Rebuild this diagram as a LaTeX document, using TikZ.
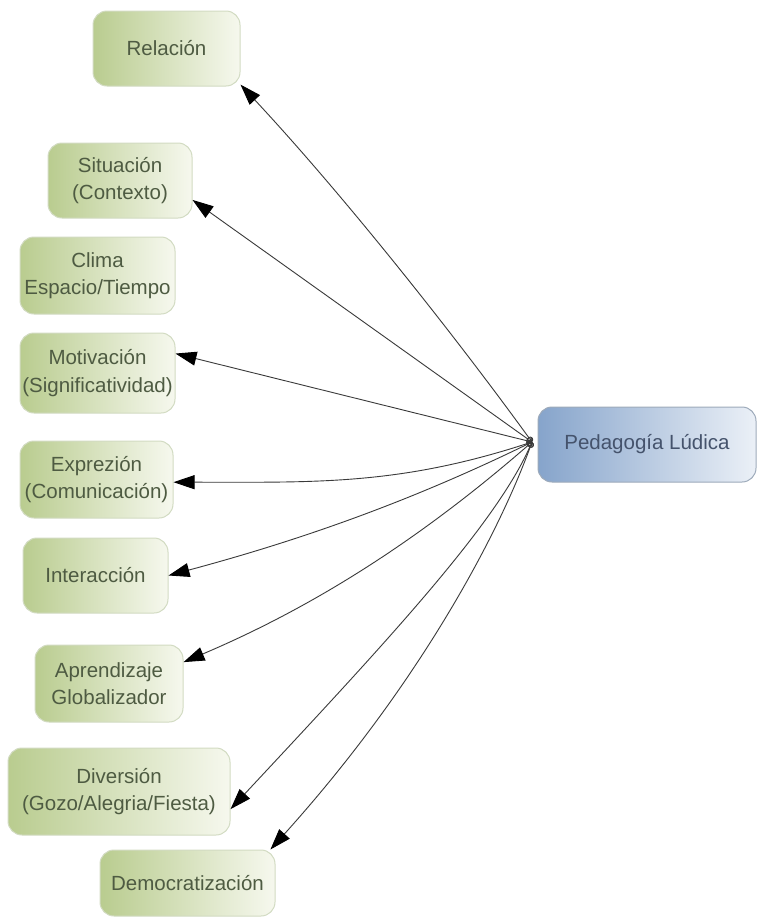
\documentclass[tikz,border=0pt]{standalone}
\usepackage{fontspec}
\setmainfont{Liberation Sans}
\usetikzlibrary{arrows.meta}
\definecolor{gleft}{HTML}{B9CC8F}
\definecolor{gright}{HTML}{F6F8EE}
\definecolor{gborder}{HTML}{D2DBC2}
\definecolor{gtext}{HTML}{4E5B42}
\definecolor{bleft}{HTML}{86A4CB}
\definecolor{bright}{HTML}{EBF0F7}
\definecolor{bborder}{HTML}{9DAABA}
\definecolor{btext}{HTML}{45536C}
\definecolor{conn}{HTML}{3A3A3A}
\tikzset{
  gbox/.style={draw=gborder, line width=1pt, left color=gleft, right color=gright,
    rounded corners=14pt, inner sep=0pt, align=center, text=gtext,
    font=\fontsize{20.5}{27.5}\selectfont},
  bbox/.style={draw=bborder, line width=1pt, left color=bleft, right color=bright,
    rounded corners=14pt, inner sep=0pt, align=center, text=btext,
    font=\fontsize{20.5}{27.5}\selectfont},
  conlink/.style={draw=conn, line width=0.9pt,
    {Circle[open,length=6pt,width=6pt]}-{Triangle[length=21pt,width=14pt,fill=black,color=black]}}
}
\begin{document}
\begin{tikzpicture}[x=1pt,y=1pt]
\useasboundingbox (0,0) rectangle (757,-921);
\fill[white] (0,0) rectangle (757,-921);

\node[gbox, minimum width=147pt, minimum height=75pt] (rel) at (166.5,-48.5) {Relación};
\node[gbox, minimum width=144pt, minimum height=75pt] (sit) at (120,-180.5) {Situación\\(Contexto)};
\node[gbox, minimum width=155pt, minimum height=77pt] (cli) at (97.5,-275.5) {Clima\\Espacio/Tiempo};
\node[gbox, minimum width=155pt, minimum height=80pt] (mot) at (97.5,-373) {Motivación\\(Significatividad)};
\node[gbox, minimum width=153pt, minimum height=77pt] (exp) at (96.5,-479.5) {Exprezión\\(Comunicación)};
\node[gbox, minimum width=145pt, minimum height=75pt] (int) at (95.5,-575.5) {Interacción};
\node[gbox, minimum width=148pt, minimum height=77pt] (apr) at (109,-683.5) {Aprendizaje\\Globalizador};
\node[gbox, minimum width=222pt, minimum height=87pt] (div) at (119,-791.5) {Diversión\\(Gozo/Alegria/Fiesta)};
\node[gbox, minimum width=175pt, minimum height=66pt] (dem) at (187.5,-883) {Democratización};
\node[bbox, minimum width=218pt, minimum height=75pt] (ped) at (647,-444.5) {Pedagogía Lúdica};

\coordinate (hub) at (532,-442);

\draw[conlink] (hub) to[out=126,in=-47,looseness=0.8] (rel.-26);
\draw[conlink] (hub) -- (sit.-15);
\draw[conlink] (hub) -- (mot.14);
\draw[conlink] (hub) to[out=198,in=0] (exp.-2);
\draw[conlink] (hub) to[out=206,in=15,looseness=0.9] (int.east);
\draw[conlink] (hub) to[out=221,in=23,looseness=0.9] (apr.16);
\draw[conlink] (hub) to[out=246,in=47,out looseness=0.5,in looseness=1.2] (div.-9);
\draw[conlink] (hub) to[out=250,in=48,out looseness=0.5,in looseness=1.2] (dem.22);
\end{tikzpicture}
\end{document}
